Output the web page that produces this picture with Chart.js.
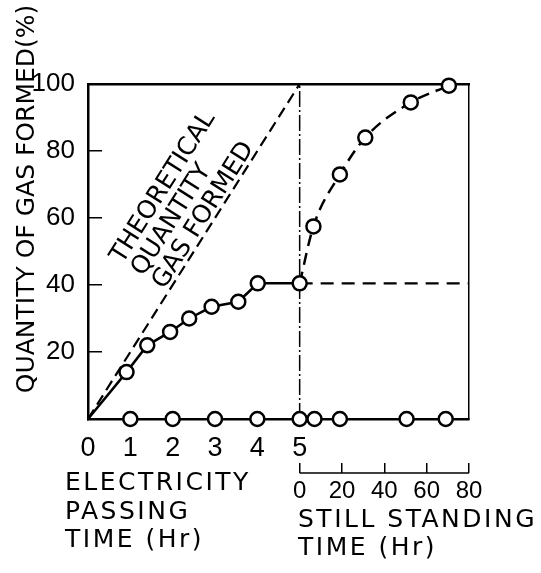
<!DOCTYPE html>
<html>
<head>
<meta charset="utf-8">
<script src="https://cdn.jsdelivr.net/npm/chart.js@4.4.1/dist/chart.umd.min.js"></script>
<style>
  html, body { margin: 0; padding: 0; background: #fff; }
  canvas { display: block; }
</style>
</head>
<body>
<canvas id="gasChart" width="541" height="573"></canvas>
<script>
// electricity passing phase (x = hours of current)
const elecX = [0, 0.91, 1.40, 1.94, 2.39, 2.92, 3.55, 4.01, 5];
const elecY = [0, 14, 22, 26, 30, 33.5, 35, 40.5, 40.5];
// still standing phase (x = hours standing after current stopped)
const standHr = [0, 6.5, 19, 31, 52.5, 70.5];
const standY = [40.5, 57.5, 73, 84, 94.5, 99.5];
// circles sitting on the zero line
const baseElecX = [1, 2, 3, 4, 5];
const baseStandHr = [7, 19, 50.5, 69];
// theoretical quantity line
const theoX = [0, 5];
const theoY = [0, 100];

const elecTicks = [0, 1, 2, 3, 4, 5];
const standTicks = [0, 20, 40, 60, 80];
const yTicks = [0, 20, 40, 60, 80, 100];

const FONT = "Liberation Sans";
const TFONT = "DejaVu Sans";
const BLACK = "#000";

function pts(xs, ys) {
    return xs.map((x, i) => ({ x: x, y: ys[i] }));
}

const circle = {
    pointRadius: 7,
    pointBorderWidth: 2.5,
    pointBackgroundColor: "#fff",
    pointBorderColor: BLACK,
    borderColor: BLACK,
    clip: false
};

const lastElec = elecX.length - 1;

const textPlugin = {
    id: "captions",
    afterDraw(chart) {
        const ctx = chart.ctx;
        const xs = chart.scales.x, ys = chart.scales.y;
        ctx.save();
        ctx.fillStyle = BLACK;

        // y axis title
        ctx.save();
        ctx.translate(27, 199);
        ctx.rotate(-Math.PI / 2);
        ctx.font = "25px " + TFONT;
        ctx.textAlign = "center";
        ctx.textBaseline = "middle";
        ctx.fillText("QUANTITY OF GAS FORMED(%)", 0, 0);
        ctx.restore();

        // x titles
        ctx.font = "25px " + TFONT;
        ctx.letterSpacing = "2.5px";
        ctx.textAlign = "left";
        ctx.textBaseline = "alphabetic";
        ["ELECTRICITY", "PASSING", "TIME (Hr)"].forEach((t, i) => ctx.fillText(t, 65, 490 + i * 28.5));
        ["STILL STANDING", "TIME (Hr)"].forEach((t, i) => ctx.fillText(t, 298, 527 + i * 28));

        // label along the theoretical line
        const x0 = xs.getPixelForValue(theoX[0]), y0 = ys.getPixelForValue(theoY[0]);
        const x1 = xs.getPixelForValue(theoX[1]), y1 = ys.getPixelForValue(theoY[1]);
        const ang = Math.atan2(y1 - y0, x1 - x0);
        const ux = Math.cos(ang), uy = Math.sin(ang);
        const nx = -uy, ny = ux;
        ctx.font = "25px " + TFONT;
        ctx.letterSpacing = "0px";
        ctx.textAlign = "center";
        ctx.textBaseline = "middle";
        [["THEORETICAL", 236, -60], ["QUANTITY", 213, -35.5], ["GAS FORMED", 234, -11]].forEach(([t, s, d]) => {
            ctx.save();
            ctx.translate(x0 + ux * s + nx * d, y0 + uy * s + ny * d);
            ctx.rotate(ang);
            ctx.fillText(t, 0, 0);
            ctx.restore();
        });

        // baseline of the standing-time axis
        const s2 = chart.scales.x2;
        const ly = s2.top + s2.options.grid.tickLength;
        ctx.strokeStyle = BLACK;
        ctx.lineWidth = 1.5;
        ctx.beginPath();
        ctx.moveTo(s2.getPixelForValue(standTicks[0]), ly);
        ctx.lineTo(s2.getPixelForValue(standTicks[standTicks.length - 1]), ly);
        ctx.stroke();
        ctx.restore();
    }
};

new Chart(document.getElementById("gasChart").getContext("2d"), {
    type: "scatter",
    data: {
        datasets: [
            Object.assign({ data: pts(baseElecX, baseElecX.map(() => 0)), showLine: false }, circle),
            Object.assign({ data: pts(baseStandHr, baseStandHr.map(() => 0)), xAxisID: "x2", showLine: false }, circle),
            Object.assign({}, circle, {
                data: pts(elecX, elecY), showLine: true, borderWidth: 2.5,
                pointRadius: elecX.map((v, i) => i === 0 ? 0 : 7)
            }),
            Object.assign({}, circle, {
                data: pts(standHr, standY), xAxisID: "x2", showLine: true, borderWidth: 2.5,
                borderDash: [12, 7], cubicInterpolationMode: "monotone",
                pointRadius: standHr.map((v, i) => i === 0 ? 0 : 7)
            }),
            {
                data: pts(theoX, theoY), showLine: true, borderColor: BLACK, borderWidth: 2.2,
                borderDash: [11, 6], pointRadius: 0, clip: false
            },
            {
                data: pts([standTicks[0], standTicks[standTicks.length - 1]], [elecY[lastElec], elecY[lastElec]]),
                xAxisID: "x2", showLine: true, borderColor: BLACK, borderWidth: 2.2,
                borderDash: [13, 8], pointRadius: 0, clip: false
            },
            {
                data: pts([elecX[lastElec], elecX[lastElec]], [0, 100]), showLine: true,
                borderColor: BLACK, borderWidth: 1.5, borderDash: [16, 3, 2, 3], pointRadius: 0, clip: false
            }
        ]
    },
    options: {
        responsive: false,
        devicePixelRatio: 1,
        animation: false,
        layout: { padding: { left: 0, right: 72, top: 84, bottom: 70 } },
        plugins: { legend: { display: false }, tooltip: { enabled: false } },
        scales: {
            x: {
                type: "linear", position: "bottom", min: 0, max: 9,
                afterBuildTicks: s => { s.ticks = elecTicks.map(v => ({ value: v })); },
                afterFit: s => { s.height = 44; },
                grid: { drawOnChartArea: false, drawTicks: true, tickLength: -6, color: BLACK, lineWidth: 1.5 },
                border: { color: BLACK, width: 2.5 },
                ticks: { color: BLACK, padding: 19, font: { family: FONT, size: 27 }, maxRotation: 0 }
            },
            x2: {
                type: "linear", position: "bottom", min: -100, max: 80,
                afterBuildTicks: s => { s.ticks = standTicks.map(v => ({ value: v })); },
                afterFit: s => { s.height = 40; },
                grid: { drawOnChartArea: false, drawTicks: true, tickLength: 10, color: BLACK, lineWidth: 1.5 },
                border: { display: false },
                ticks: { color: BLACK, padding: 4, font: { family: FONT, size: 24 }, maxRotation: 0 }
            },
            xTop: {
                type: "linear", position: "top", min: 0, max: 9,
                afterFit: s => { s.height = 0; },
                grid: { display: false, drawTicks: false },
                border: { color: BLACK, width: 2.5 },
                ticks: { display: false }
            },
            y: {
                type: "linear", position: "left", min: 0, max: 100,
                afterBuildTicks: s => { s.ticks = yTicks.map(v => ({ value: v })); },
                afterFit: s => { s.width = 88; },
                grid: { drawOnChartArea: false, drawTicks: true, tickLength: -14, color: BLACK, lineWidth: 1.5 },
                border: { color: BLACK, width: 2.5 },
                ticks: {
                    color: BLACK, padding: 27, font: { family: FONT, size: 26 },
                    callback: v => v === 0 ? "" : String(v)
                }
            },
            yRight: {
                type: "linear", position: "right", min: 0, max: 100,
                afterFit: s => { s.width = 0; },
                grid: { display: false, drawTicks: false },
                border: { color: BLACK, width: 1.5 },
                ticks: { display: false }
            }
        }
    },
    plugins: [textPlugin]
});
</script>
</body>
</html>
